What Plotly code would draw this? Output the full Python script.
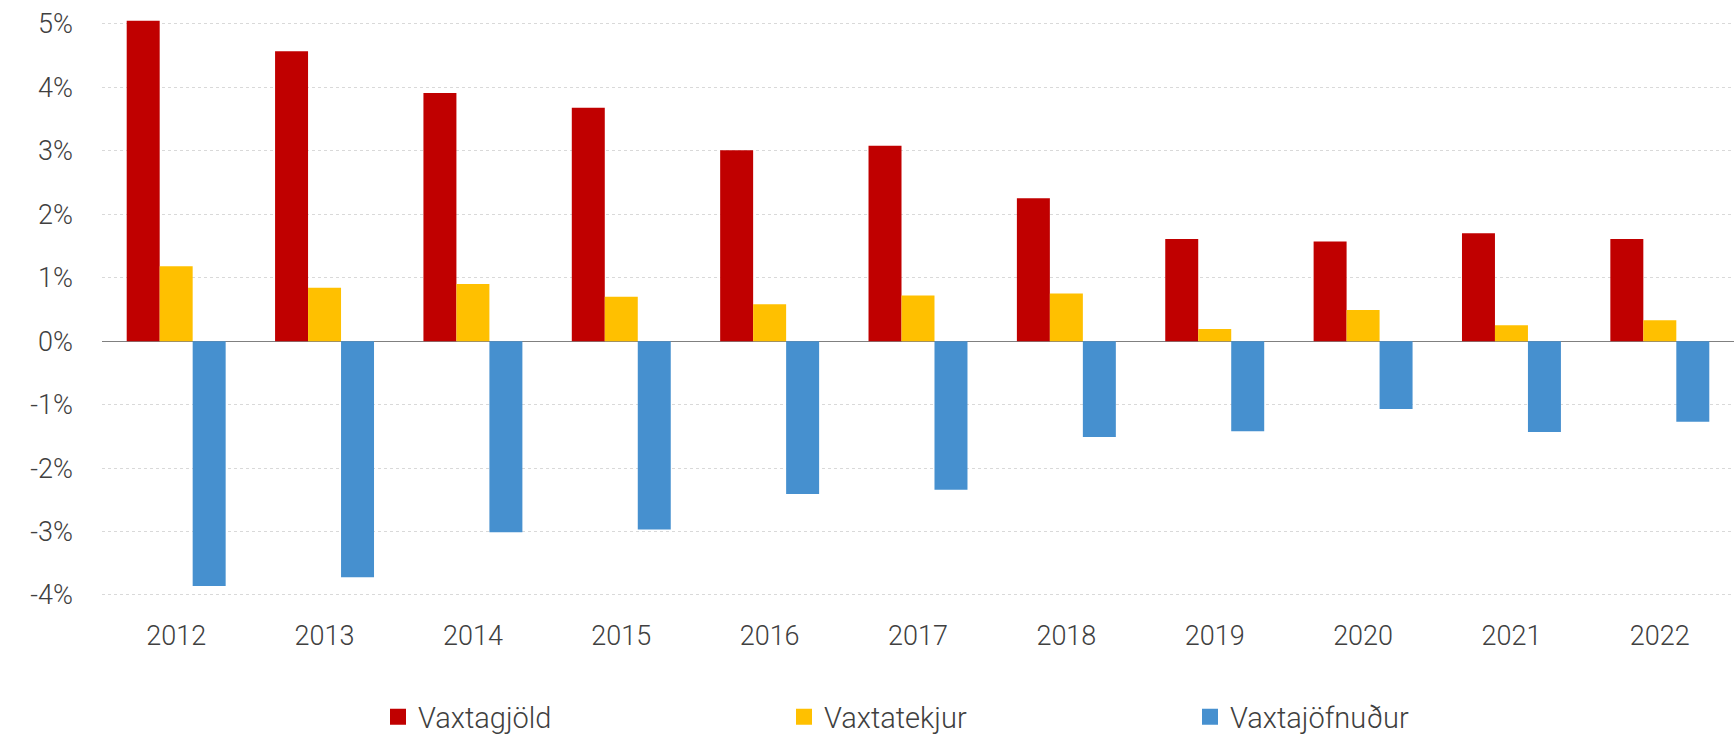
import plotly.graph_objects as go

years = ["2012", "2013", "2014", "2015", "2016", "2017", "2018", "2019", "2020", "2021", "2022"]
vaxtagjold = [5.05, 4.57, 3.91, 3.68, 3.01, 3.08, 2.25, 1.61, 1.57, 1.70, 1.61]
vaxtatekjur = [1.18, 0.84, 0.90, 0.70, 0.58, 0.72, 0.75, 0.19, 0.49, 0.25, 0.33]
vaxtajofnudur = [-3.86, -3.72, -3.01, -2.97, -2.41, -2.34, -1.51, -1.42, -1.07, -1.43, -1.27]
y_ticks = [-4, -3, -2, -1, 0, 1, 2, 3, 4, 5]
y_tick_labels = [f"{v}%" for v in y_ticks]

series = [
    ("Vaxtagjöld", vaxtagjold, "#C00000"),
    ("Vaxtatekjur", vaxtatekjur, "#FFC000"),
    ("Vaxtajöfnuður", vaxtajofnudur, "#4690CF"),
]

FONT = "Roboto"
TEXT = "#404040"

fig = go.Figure()
for name, vals, color in series:
    fig.add_trace(go.Bar(x=years, y=vals, name=name, marker=dict(color=color, line_width=0),
                         showlegend=False))
# legend entries with larger square swatches
for name, vals, color in series:
    fig.add_trace(go.Scatter(x=[None], y=[None], mode="markers", name=name,
                             marker=dict(symbol="square", size=16, color=color)))

plot_h = 737 - 8 - 123
fig.update_layout(
    width=1734, height=737,
    margin=dict(l=102, r=0, t=8, b=123, autoexpand=False),
    paper_bgcolor="white", plot_bgcolor="white",
    barmode="group", bargap=0.333, bargroupgap=0,
    font=dict(family=FONT, size=26, color=TEXT, weight=300),
    legend=dict(orientation="h", x=(378 - 102) / 1632, xanchor="left",
                y=-(717 - 614) / plot_h, yanchor="middle",
                entrywidth=361, entrywidthmode="pixels",
                font=dict(family=FONT, size=29, color=TEXT, weight=300),
                itemsizing="trace"),
)
fig.update_xaxes(showgrid=False, showline=False, ticks="", tickfont=dict(size=27),
                 ticklabelstandoff=3)
fig.update_yaxes(range=[-4.3, 5.25], tickvals=y_ticks, ticktext=y_tick_labels,
                 showgrid=True, gridcolor="#d9d9d9", griddash="dot", gridwidth=1,
                 zeroline=True, zerolinecolor="#808080", zerolinewidth=1.2,
                 showline=False, ticks="", tickfont=dict(size=27),
                 ticklabelstandoff=28)

fig.write_html("out.html")
